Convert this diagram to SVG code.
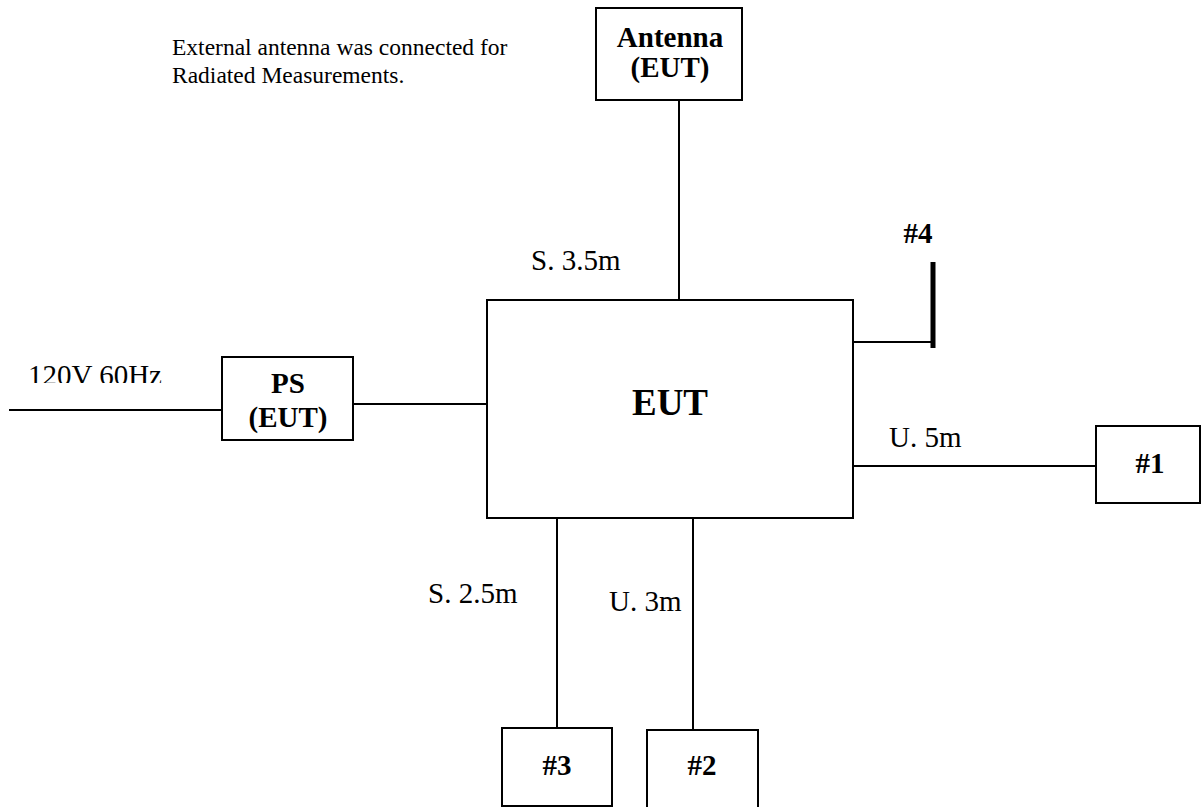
<svg xmlns="http://www.w3.org/2000/svg" width="1202" height="807" viewBox="0 0 1202 807">
<defs>
<style>
.box{fill:#fff;stroke:#000;stroke-width:2}
.ln{stroke:#000;stroke-width:2;fill:none}
text{font-family:'Liberation Serif','Times New Roman',serif;fill:#000}
.lbl{font-size:29px}
.b{font-weight:bold;font-size:29px;text-anchor:middle}
.note{font-size:23.5px}
</style>
<clipPath id="clipV"><rect x="0" y="340" width="220" height="43"/></clipPath>
</defs>
<rect width="1202" height="807" fill="#fff"/>
<g id="connectors" font-family="Liberation Serif, serif">
<line class="ln" x1="9" y1="410" x2="222" y2="410"/>
<line class="ln" x1="353" y1="404" x2="487" y2="404"/>
<line class="ln" x1="679" y1="100" x2="679" y2="300"/>
<line class="ln" x1="853" y1="342" x2="933" y2="342"/>
<line x1="933" y1="262" x2="933" y2="348" stroke="#000" stroke-width="5"/>
<line class="ln" x1="853" y1="466" x2="1096" y2="466"/>
<line class="ln" x1="557" y1="518" x2="557" y2="728"/>
<line class="ln" x1="693" y1="518" x2="693" y2="730"/>
<text class="lbl" x="531" y="270">S. 3.5m</text>
<text class="lbl" x="889" y="447">U. 5m</text>
<text class="lbl" x="428" y="603">S. 2.5m</text>
<text class="lbl" x="609" y="611">U. 3m</text>
<text class="b" x="918" y="243">#4</text>
</g>
<g id="note" font-family="Liberation Serif, serif">
<text class="note" x="172" y="55">External antenna was connected for</text>
<text class="note" x="172" y="83">Radiated Measurements.</text>
</g>
<g id="power" font-family="Liberation Serif, serif">
<text class="lbl" x="28" y="385" clip-path="url(#clipV)">120V 60Hz</text>
</g>
<g id="antenna" font-family="Liberation Serif, serif">
<rect class="box" x="596" y="8" width="146" height="92"/>
<text class="b" x="670" y="47">Antenna</text>
<text class="b" x="670" y="77">(EUT)</text>
</g>
<g id="ps" font-family="Liberation Serif, serif">
<rect class="box" x="222" y="357" width="131" height="83"/>
<text class="b" x="288" y="393">PS</text>
<text class="b" x="288" y="427">(EUT)</text>
</g>
<g id="eut" font-family="Liberation Serif, serif">
<rect class="box" x="487" y="300" width="366" height="218"/>
<text class="b" x="670" y="415" style="font-size:37px">EUT</text>
</g>
<g id="n1" font-family="Liberation Serif, serif">
<rect class="box" x="1096" y="426" width="104" height="77"/>
<text class="b" x="1150" y="473">#1</text>
</g>
<g id="n3" font-family="Liberation Serif, serif">
<rect class="box" x="502" y="728" width="110" height="78"/>
<text class="b" x="557" y="775">#3</text>
</g>
<g id="n2" font-family="Liberation Serif, serif">
<rect class="box" x="647" y="730" width="111" height="78"/>
<text class="b" x="702" y="775">#2</text>
</g>
</svg>
